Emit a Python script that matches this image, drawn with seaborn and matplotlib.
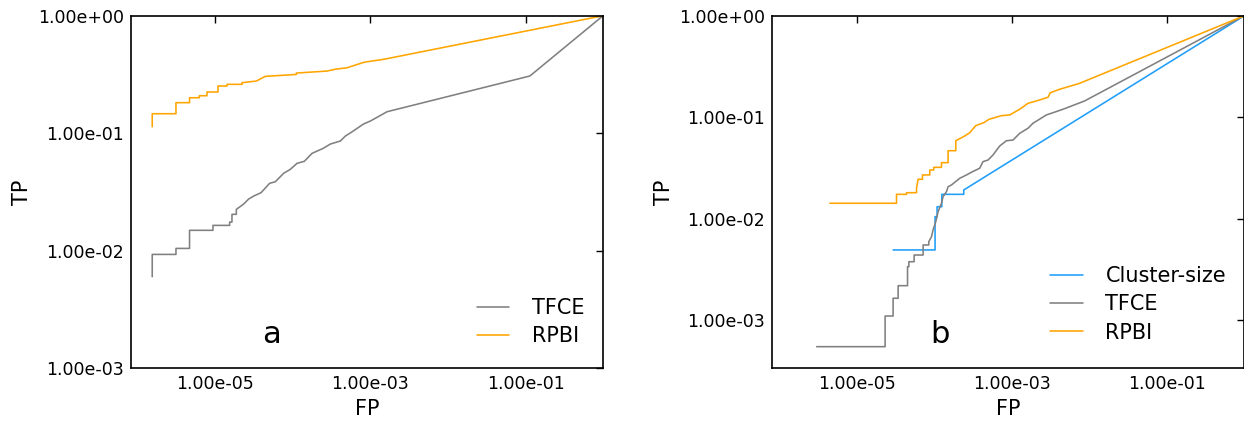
import numpy as np
import pandas as pd
import matplotlib
matplotlib.use("Agg")
import matplotlib.pyplot as plt
import seaborn as sns
from matplotlib.ticker import FixedLocator, FormatStrFormatter, NullLocator

sns.set_style("white")
plt.rcParams["font.family"] = ["DejaVu Sans"]
plt.rcParams["text.color"] = "black"
plt.rcParams["axes.labelcolor"] = "black"
plt.rcParams["xtick.color"] = "black"
plt.rcParams["ytick.color"] = "black"

# ---------------- data (log10 values) ----------------
# Panel a
a_tfce_log_fp = [-5.813, -5.813, -5.507, -5.507, -5.332, -5.332, -5.030, -5.030, -4.815, -4.815,
                 -4.785, -4.785, -4.729, -4.729, -4.635, -4.570, -4.497, -4.410, -4.299, -4.226,
                 -4.119, -4.032, -3.946, -3.852, -3.752, -3.610, -3.516, -3.387, -3.323, -3.232,
                 -3.090, -3.000, -2.785, -0.944, 0.0]
a_tfce_log_tp = [-2.221, -2.031, -2.031, -1.980, -1.980, -1.826, -1.826, -1.784, -1.784, -1.756,
                 -1.756, -1.690, -1.690, -1.648, -1.603, -1.560, -1.532, -1.506, -1.426, -1.413,
                 -1.341, -1.307, -1.256, -1.239, -1.171, -1.129, -1.092, -1.066, -1.024, -0.986,
                 -0.922, -0.896, -0.817, -0.513, 0.0]
a_rpbi_log_fp = [-5.813, -5.813, -5.507, -5.507, -5.332, -5.332, -5.206, -5.206, -5.107, -5.107,
                 -4.965, -4.965, -4.849, -4.849, -4.655, -4.655, -4.471, -4.355, -3.955, -3.955,
                 -3.559, -3.450, -3.301, -3.100, -3.065, -2.828, 0.0]
a_rpbi_log_tp = [-0.945, -0.834, -0.834, -0.740, -0.740, -0.698, -0.698, -0.681, -0.681, -0.649,
                 -0.649, -0.598, -0.598, -0.584, -0.584, -0.570, -0.556, -0.516, -0.500, -0.488,
                 -0.471, -0.455, -0.443, -0.400, -0.394, -0.371, 0.0]

# Panel b
b_cluster_log_fp = [-4.529, -3.988, -3.988, -3.962, -3.962, -3.901, -3.901, -3.618, -3.618, 0.0]
b_cluster_log_tp = [-2.308, -2.308, -1.980, -1.980, -1.882, -1.882, -1.760, -1.760, -1.717, 0.0]
b_tfce_log_fp = [-5.515, -4.632, -4.632, -4.529, -4.529, -4.464, -4.464, -4.343, -4.343, -4.326,
                 -4.326, -4.258, -4.258, -4.142, -4.142, -4.069, -4.069, -4.034, -4.014, -3.979,
                 -3.949, -3.905, -3.885, -3.841, -3.820, -3.777, -3.670, -3.583, -3.506, -3.412,
                 -3.370, -3.305, -3.241, -3.155, -3.068, -2.983, -2.897, -2.790, -2.726, -2.553,
                 -2.339, -2.060, 0.0]
b_tfce_log_tp = [-3.261, -3.261, -2.959, -2.959, -2.784, -2.784, -2.660, -2.660, -2.473, -2.473,
                 -2.424, -2.424, -2.358, -2.358, -2.259, -2.259, -2.227, -2.177, -2.111, -2.030,
                 -1.931, -1.848, -1.783, -1.734, -1.685, -1.668, -1.602, -1.569, -1.537, -1.503,
                 -1.438, -1.422, -1.372, -1.284, -1.232, -1.225, -1.159, -1.109, -1.060, -0.978,
                 -0.922, -0.840, 0.0]
b_rpbi_log_fp = [-5.345, -4.485, -4.485, -4.356, -4.356, -4.227, -4.227, -4.207, -4.150, -4.150,
                 -4.056, -4.056, -4.005, -4.005, -3.905, -3.905, -3.820, -3.820, -3.721, -3.721,
                 -3.605, -3.541, -3.464, -3.361, -3.292, -3.133, -3.026, -2.897, -2.790, -2.682,
                 -2.532, -2.502, -2.382, -2.124, 0.0]
b_rpbi_log_tp = [-1.848, -1.848, -1.760, -1.760, -1.744, -1.744, -1.700, -1.612, -1.612, -1.569,
                 -1.569, -1.520, -1.520, -1.494, -1.494, -1.448, -1.448, -1.330, -1.330, -1.232,
                 -1.185, -1.153, -1.084, -1.054, -1.021, -0.985, -0.978, -0.922, -0.863, -0.840,
                 -0.804, -0.759, -0.725, -0.666, 0.0]

methods_a = ["TFCE", "RPBI"]
methods_b = ["Cluster-size", "TFCE", "RPBI"]
colors = {"Cluster-size": "#1f9ef9", "TFCE": "#808080", "RPBI": "#ffa500"}
x_ticks = [1e-5, 1e-3, 1e-1]
y_ticks = [1e-3, 1e-2, 1e-1, 1e0]
panel_letters = ["a", "b"]


def make_df(series):
    frames = []
    for name, (lx, ly) in series.items():
        frames.append(pd.DataFrame({"FP": 10 ** np.array(lx), "TP": 10 ** np.array(ly),
                                    "method": name}))
    return pd.concat(frames, ignore_index=True)


df_a = make_df({"TFCE": (a_tfce_log_fp, a_tfce_log_tp), "RPBI": (a_rpbi_log_fp, a_rpbi_log_tp)})
df_b = make_df({"Cluster-size": (b_cluster_log_fp, b_cluster_log_tp),
                "TFCE": (b_tfce_log_fp, b_tfce_log_tp),
                "RPBI": (b_rpbi_log_fp, b_rpbi_log_tp)})

fig = plt.figure(figsize=(12.44, 4.29), dpi=100)
ax_a = fig.add_axes([0.1051, 0.1415, 0.3797, 0.8219])
ax_b = fig.add_axes([0.6206, 0.1415, 0.3797, 0.8219])

configs = [
    (ax_a, df_a, methods_a, 1e-3, (0.733, 0.199), (0.297, 0.072)),
    (ax_b, df_b, methods_b, 10 ** -3.474, (0.589, 0.290), (0.356, 0.072)),
]

for (ax, df, order, ymin, leg_anchor, txt_pos), letter in zip(configs, panel_letters):
    sns.lineplot(data=df, x="FP", y="TP", hue="method", hue_order=order,
                 palette=colors, sort=False, estimator=None, linewidth=1.15, ax=ax)
    ax.set_xscale("log")
    ax.set_yscale("log")
    ax.set_xlim(10 ** -6.09, 1.0)
    ax.set_ylim(ymin, 1.0)
    ax.xaxis.set_major_locator(FixedLocator(x_ticks))
    ax.yaxis.set_major_locator(FixedLocator(y_ticks))
    ax.xaxis.set_minor_locator(NullLocator())
    ax.yaxis.set_minor_locator(NullLocator())
    ax.xaxis.set_major_formatter(FormatStrFormatter("%.2e"))
    ax.yaxis.set_major_formatter(FormatStrFormatter("%.2e"))
    ax.tick_params(which="both", direction="in", top=True, right=True, length=5,
                   width=1, labelsize=12.5, color="black", labelcolor="black", pad=5)
    for sp in ax.spines.values():
        sp.set_color("black")
        sp.set_linewidth(1.2)
    ax.set_xlabel("FP", fontsize=15, color="black")
    ax.set_ylabel("TP", fontsize=15, color="black")
    handles, labels = ax.get_legend_handles_labels()
    leg = ax.legend(handles, labels, loc="upper left", bbox_to_anchor=leg_anchor, frameon=False,
                    fontsize=15, handlelength=1.55, handletextpad=1.1, labelspacing=0.4,
                    borderpad=0, borderaxespad=0)
    for t in leg.get_texts():
        t.set_color("black")
    ax.text(txt_pos[0], txt_pos[1], letter, transform=ax.transAxes, fontsize=22,
            ha="center", va="baseline", color="black")

fig.savefig("out.png", dpi=100)
